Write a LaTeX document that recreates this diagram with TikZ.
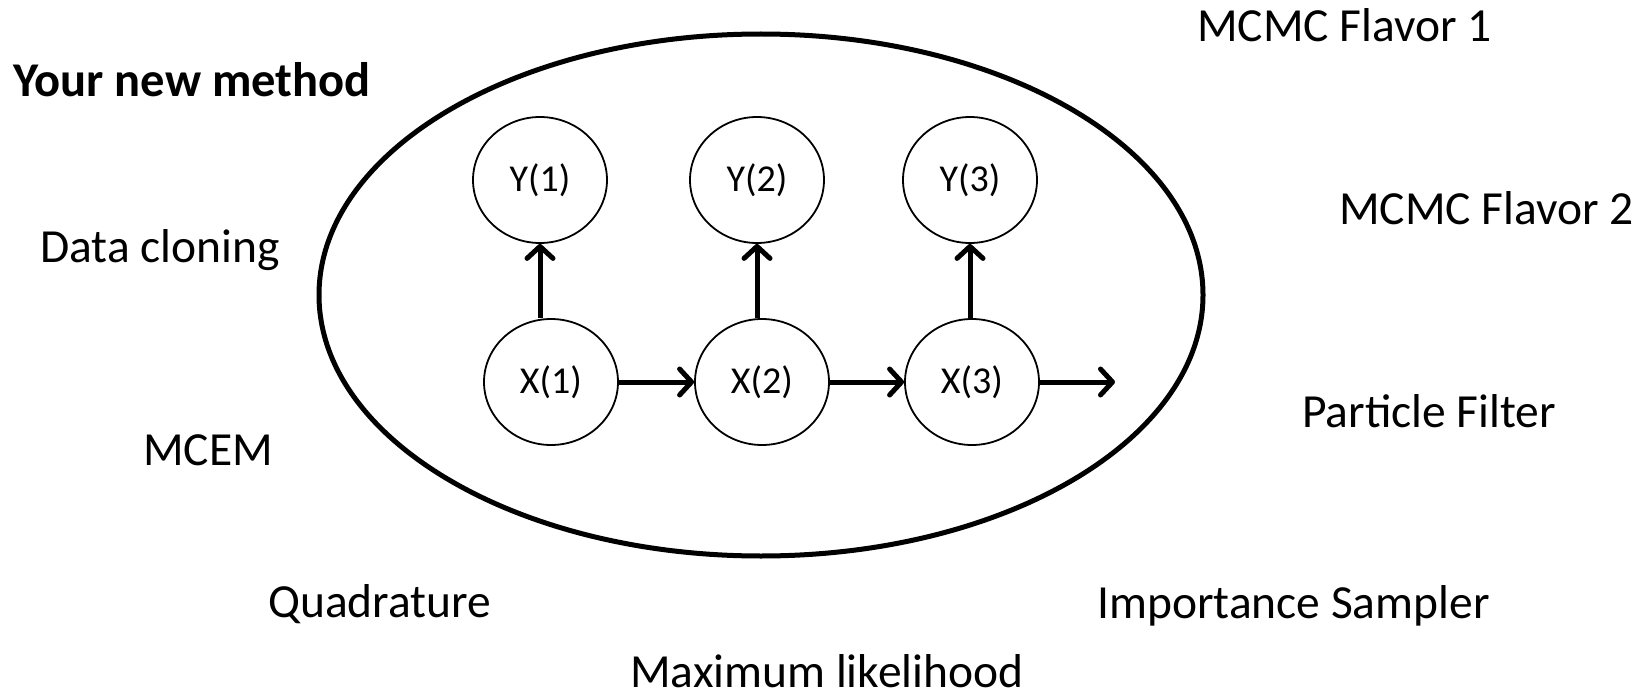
\documentclass[tikz,border=0pt]{standalone}
\usepackage{fontspec}
\setmainfont{Carlito}
\usetikzlibrary{shapes.geometric,arrows.meta}
\tikzset{
  lbl/.style={anchor=base west, inner sep=0pt, font=\fontsize{47.5}{50}\selectfont},
  var/.style={draw, ellipse, line width=1.8pt, minimum width=134pt, minimum height=126pt, inner sep=0pt, font=\fontsize{38}{40}\selectfont},
  big/.style={draw, ellipse, line width=5pt, minimum width=884pt, minimum height=522pt, inner sep=0pt},
  arr/.style={line width=5pt, -{Straight Barb[length=12pt,width=26pt,line cap=round,line join=round]}}
}
\begin{document}
\begin{tikzpicture}[x=1pt,y=-1pt]
\useasboundingbox (0,0) rectangle (1652,698);
\node[big] (oval) at (761,295) {};
\node[var] (y1) at (540,180) {Y(1)};
\node[var] (y2) at (757,180) {Y(2)};
\node[var] (y3) at (970,180) {Y(3)};
\node[var] (x1) at (551,382) {X(1)};
\node[var] (x2) at (762,382) {X(2)};
\node[var] (x3) at (972,382) {X(3)};
\coordinate (xend) at (1115,382);
\draw[arr] (x1.north -| y1) -- (y1.south);
\draw[arr] (x2.north -| y2) -- (y2.south);
\draw[arr] (x3.north -| y3) -- (y3.south);
\draw[arr] (x1.east) -- (x2.west);
\draw[arr] (x2.east) -- (x3.west);
\draw[arr] (x3.east) -- (xend);
\node[lbl, font=\fontsize{48.5}{50}\selectfont\bfseries] (yours) at (13,97) {Your new method};
\node[lbl] (f1) at (1197,42) {MCMC Flavor 1};
\node[lbl] (f2) at (1339,224) {MCMC Flavor 2};
\node[lbl] (pf) at (1302,427) {Particle Filter};
\node[lbl] (dc) at (40,262) {Data cloning};
\node[lbl] (mcem) at (143,465) {MCEM};
\node[lbl] (quad) at (268,617) {Quadrature};
\node[lbl] (imp) at (1097,618) {Importance Sampler};
\node[lbl] (ml) at (630,687) {Maximum likelihood};
\end{tikzpicture}
\end{document}
